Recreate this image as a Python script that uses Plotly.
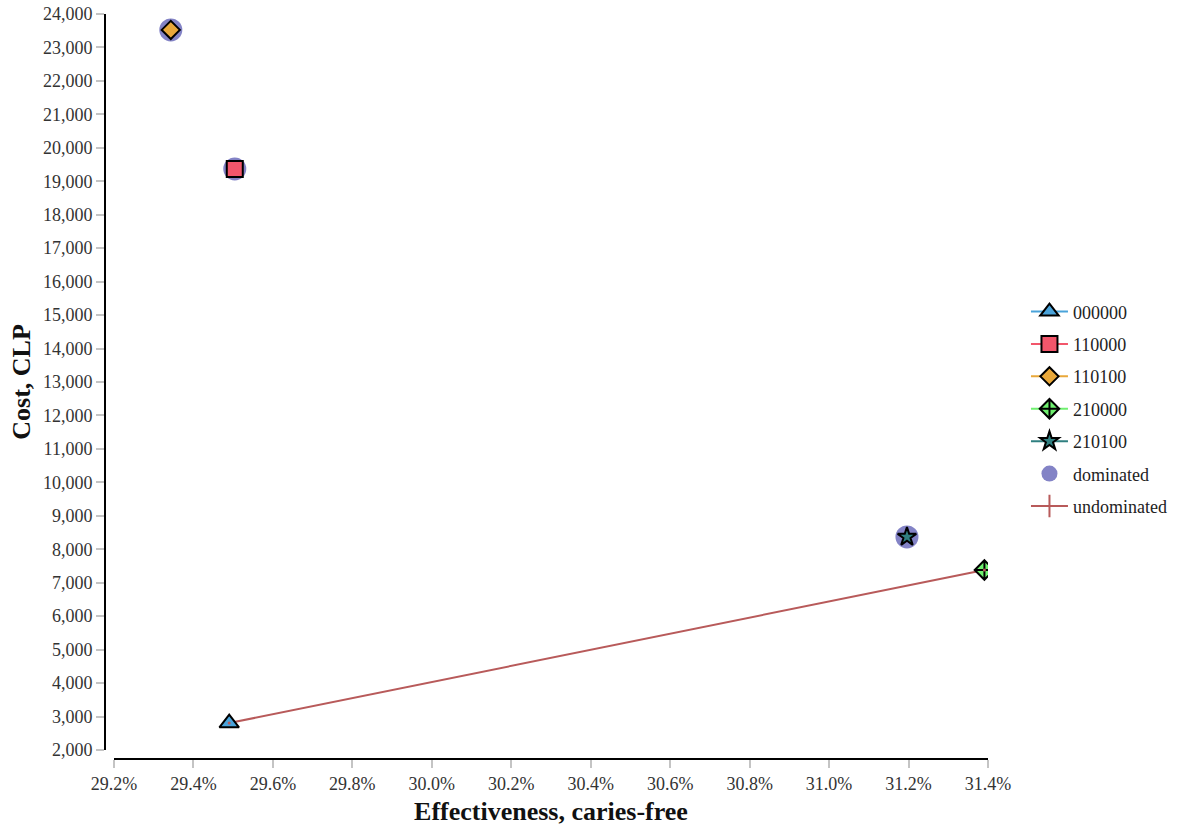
import plotly.graph_objects as go

# Strategy results: effectiveness (share caries-free) and cost in CLP
strategies = ["000000", "110000", "110100", "210000", "210100"]
effectiveness = [0.29490, 0.29504, 0.29343, 0.31391, 0.31196]
cost = [2805, 19370, 23525, 7380, 8370]
dominated = ["110000", "110100", "210100"]
frontier = ["000000", "210000"]

symbols = ["triangle-up", "square", "diamond", "diamond-cross", "star"]
fills = ["#4aa3da", "#f2566b", "#e9a83a", "#6ff06f", "#2f7f80"]
sizes = [17, 16, 14, 15, 14]
dom_color = "#8383c6"
front_color = "#b85a5a"
serif = "Liberation Serif, Times New Roman, serif"

fig = go.Figure()

idx = {s: i for i, s in enumerate(strategies)}

# dominated halo circles (drawn first, under symbols)
fig.add_trace(go.Scatter(
    x=[effectiveness[idx[s]] for s in dominated],
    y=[cost[idx[s]] for s in dominated],
    mode="markers", name="dominated", legendrank=6, legendgroup="dom",
    marker=dict(symbol="circle", size=23, color=dom_color),
))

# efficiency frontier line
fig.add_trace(go.Scatter(
    x=[effectiveness[idx[s]] for s in frontier],
    y=[cost[idx[s]] for s in frontier],
    mode="lines", showlegend=False,
    line=dict(color=front_color, width=2),
))
fig.add_trace(go.Scatter(
    x=[None], y=[None], mode="lines+markers", name="undominated",
    legendrank=7, legendgroup="undom",
    line=dict(color=front_color, width=2),
    marker=dict(symbol="line-ns", size=20, line=dict(color=front_color, width=2)),
))

for i, s in enumerate(strategies):
    fig.add_trace(go.Scatter(
        x=[effectiveness[i]], y=[cost[i]], mode="lines+markers", name=s,
        legendrank=i + 1, legendgroup=s,
        line=dict(color=fills[i], width=2),
        marker=dict(symbol=symbols[i], size=sizes[i], color=fills[i],
                    line=dict(color="black", width=2)),
    ))

# the small frontier dot visible on top of the endpoint markers
fig.add_trace(go.Scatter(
    x=[effectiveness[idx[s]] for s in frontier],
    y=[cost[idx[s]] for s in frontier],
    mode="markers", showlegend=False, hoverinfo="skip",
    marker=dict(symbol="circle", size=3, color=front_color),
))

W, H = 1185, 830
l, r, t, b = 105, 197, 14, 71
pw, ph = W - l - r, H - t - b
xdom0 = 9 / pw
ydom0 = 9 / ph
xr = [0.292, 0.314]
yr = [2000, 24000]
tick_color = "#c4c4c4"
tfont = dict(family=serif, size=18, color="#333")

common_x = dict(range=xr, dtick=0.002, tick0=0.292, domain=[xdom0, 1],
                anchor="free", position=0, automargin=False)
common_y = dict(range=yr, dtick=1000, tick0=2000, domain=[ydom0, 1],
                anchor="free", position=0, automargin=False)

fig.update_layout(
    width=W, height=H,
    margin=dict(l=l, r=r, t=t, b=b),
    paper_bgcolor="white", plot_bgcolor="white",
    font=dict(family=serif, size=18, color="#222"),
    showlegend=True,
    legend=dict(x=1.043, xanchor="left", y=0.47, yanchor="middle",
                font=dict(family=serif, size=18, color="#222"),
                traceorder="grouped", itemwidth=37, tracegroupgap=6,
                bgcolor="rgba(0,0,0,0)"),
    xaxis=dict(**common_x, tickformat=".1%", showgrid=False, zeroline=False,
               showline=True, linecolor="black", linewidth=2,
               ticks="outside", ticklen=8, tickwidth=1.5, tickcolor=tick_color,
               tickfont=tfont,
               title=dict(text="<b>Effectiveness, caries-free</b>", standoff=8,
                          font=dict(family=serif, size=26, color="#111"))),
    yaxis=dict(**common_y, tickformat=",d", showgrid=False, zeroline=False,
               showline=True, linecolor="black", linewidth=2,
               ticks="outside", ticklen=8, tickwidth=1.5, tickcolor=tick_color,
               tickfont=tfont,
               title=dict(text="<b>Cost, CLP</b>", standoff=4,
                          font=dict(family=serif, size=26, color="#111"))),
    # inner halves of the crossing tick marks
    xaxis2=dict(**common_x, overlaying="x", showticklabels=False, showgrid=False,
                zeroline=False, showline=False, ticks="inside", ticklen=8,
                tickwidth=1.5, tickcolor=tick_color),
    yaxis2=dict(**common_y, overlaying="y", showticklabels=False, showgrid=False,
                zeroline=False, showline=False, ticks="inside", ticklen=8,
                tickwidth=1.5, tickcolor=tick_color),
)

fig.write_html("out.html")
